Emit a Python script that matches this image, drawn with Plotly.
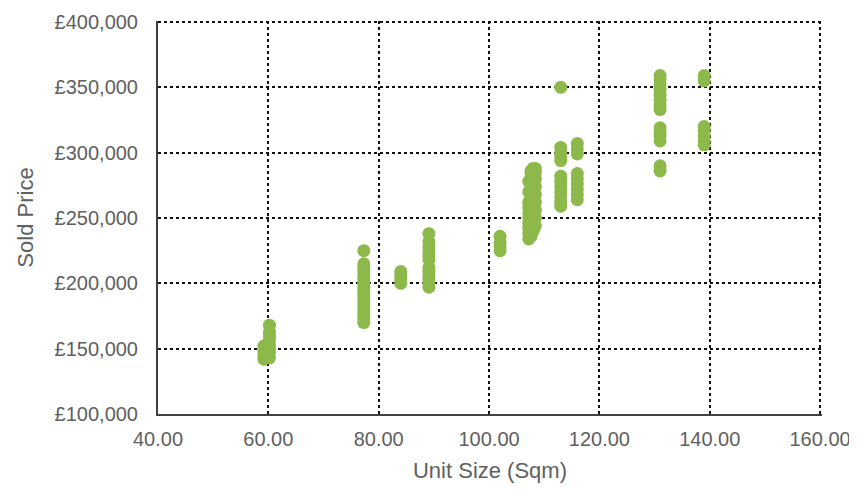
import plotly.graph_objects as go

# Data (unit size in sqm, sold price in GBP)
size_59 = [59.2] * 5
price_59 = [142000, 145000, 148000, 150000, 152000]
size_60 = [60.2] * 8
price_60 = [143000, 147000, 150000, 153000, 157000, 160000, 163000, 168000]
size_77 = [77.3] * 17
price_77 = [170000, 173000, 176000, 179000, 182000, 185000, 188000, 191000, 194000,
            197000, 200000, 203000, 206000, 209000, 212000, 215000, 225000]
size_84 = [84.0] * 4
price_84 = [200000, 203000, 206000, 209000]
size_89 = [89.1] * 12
price_89 = [197000, 200000, 203000, 206000, 209000, 212000, 218000, 221000, 224000,
            228000, 232000, 238000]
size_102 = [102.0] * 4
price_102 = [225000, 228000, 231000, 236000]
size_107a = [107.2] * 10
price_107a = [234000, 238000, 242000, 246000, 250000, 254000, 258000, 262000, 270000, 278000]
size_107b = [107.6] * 12
price_107b = [236000, 240000, 245000, 250000, 255000, 260000, 265000, 270000, 275000,
              280000, 284000, 286000]
size_108a = [108.0] * 11
price_108a = [240000, 245000, 250000, 255000, 260000, 265000, 270000, 275000, 280000,
              285000, 288000]
size_108b = [108.4] * 9
price_108b = [244000, 250000, 256000, 262000, 268000, 274000, 280000, 285000, 288000]
size_113 = [113.0] * 12
price_113 = [350000, 304000, 300000, 297000, 294000, 282000, 278000, 274000, 270000,
             266000, 262000, 259000]
size_116 = [116.0] * 9
price_116 = [307000, 303000, 299000, 284000, 280000, 276000, 272000, 268000, 264000]
size_131 = [131.0] * 14
price_131 = [359000, 356000, 352000, 348000, 344000, 340000, 336000, 333000,
             319000, 316000, 313000, 309000, 290000, 286000]
size_139 = [139.0] * 7
price_139 = [359000, 355000, 320000, 317000, 313000, 309000, 306000]

unit_size = (size_59 + size_60 + size_77 + size_84 + size_89 + size_102 + size_107a
             + size_107b + size_108a + size_108b + size_113 + size_116 + size_131 + size_139)
sold_price = (price_59 + price_60 + price_77 + price_84 + price_89 + price_102 + price_107a
              + price_107b + price_108a + price_108b + price_113 + price_116 + price_131
              + price_139)

x_ticks = [40, 60, 80, 100, 120, 140, 160]
x_tick_labels = ["40.00", "60.00", "80.00", "100.00", "120.00", "140.00", "160.00"]
y_ticks = [100000, 150000, 200000, 250000, 300000, 350000, 400000]
y_tick_labels = ["\u00a3100,000", "\u00a3150,000", "\u00a3200,000", "\u00a3250,000",
                 "\u00a3300,000", "\u00a3350,000", "\u00a3400,000"]

fig = go.Figure(go.Scatter(
    x=unit_size, y=sold_price, mode="markers",
    marker=dict(size=13, color="#8db84a", line=dict(width=0)),
))

font_color = "#606060"
fig.update_layout(
    width=845, height=475,
    margin=dict(l=150, r=31, t=13, b=69),
    paper_bgcolor="white", plot_bgcolor="white",
    font=dict(family="Liberation Sans, Arial, sans-serif", color=font_color, size=20),
    showlegend=False,
)
fig.update_xaxes(
    range=[40, 160.35], tickvals=x_ticks, ticktext=x_tick_labels,
    showgrid=True, gridcolor="#111111", gridwidth=1.6, griddash="dot",
    showline=True, linecolor="#404040", linewidth=2, zeroline=False,
    ticks="", ticklabelstandoff=6, automargin=False, ticklabeloverflow="allow",
    title=dict(text="Unit Size (Sqm)", font=dict(size=22, color=font_color)),
)
fig.update_yaxes(
    range=[100000, 400800], tickvals=y_ticks, ticktext=y_tick_labels,
    showgrid=True, gridcolor="#111111", gridwidth=1.6, griddash="dot",
    showline=True, linecolor="#404040", linewidth=2, zeroline=False,
    ticks="", ticklabelstandoff=14, automargin=False, ticklabeloverflow="allow",
    title=dict(text="Sold Price", font=dict(size=22, color=font_color)),
)

fig.write_html("out.html")
